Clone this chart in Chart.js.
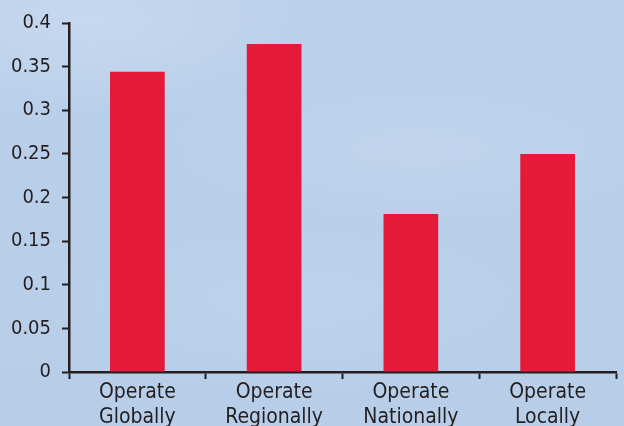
<!DOCTYPE html>
<html>
<head>
<meta charset="utf-8">
<script src="https://cdn.jsdelivr.net/npm/chart.js@4.4.1/dist/chart.umd.min.js"></script>
<style>
  html, body { margin: 0; padding: 0; }
  body {
    width: 624px; height: 426px; overflow: hidden;
    background:
      radial-gradient(ellipse 220px 90px at 90px 20px, rgba(206,222,242,0.6), rgba(206,222,242,0)),
      radial-gradient(ellipse 260px 80px at 420px 150px, rgba(198,217,239,0.5), rgba(198,217,239,0)),
      radial-gradient(ellipse 300px 90px at 300px 300px, rgba(195,214,237,0.45), rgba(195,214,237,0)),
      linear-gradient(180deg, #bbd0ea 0%, #b9cfe9 50%, #b8cee8 100%);
  }
  #wrap { position: absolute; left: 0; top: 0; width: 624px; height: 426px; }
</style>
</head>
<body>
<div id="wrap"><canvas id="c" width="624" height="426"></canvas></div>
<script>
  // data
  var categories = [["Operate", "Globally"], ["Operate", "Regionally"], ["Operate", "Nationally"], ["Operate", "Locally"]];
  var shares = [0.344, 0.376, 0.181, 0.25];
  var yTicks = [0, 0.05, 0.1, 0.15, 0.2, 0.25, 0.3, 0.35, 0.4];

  var ink = "#231f20";
  var family = "'Liberation Sans Narrow', 'DejaVu Sans Condensed', sans-serif";

  var ctx = document.getElementById("c").getContext("2d");
  new Chart(ctx, {
    type: "bar",
    data: {
      labels: categories,
      datasets: [{
        data: shares,
        backgroundColor: "#e5193a",
        borderWidth: 0,
        categoryPercentage: 0.8,
        barPercentage: 0.5
      }]
    },
    options: {
      responsive: false,
      animation: false,
      layout: { padding: { top: 19, right: 8, left: 0, bottom: 0 } },
      plugins: { legend: { display: false }, tooltip: { enabled: false } },
      scales: {
        x: {
          afterFit: function (s) { s.height = 54; },
          grid: {
            offset: true,
            drawOnChartArea: false,
            drawTicks: true,
            tickLength: 7,
            tickWidth: 2,
            tickColor: ink
          },
          border: { color: ink, width: 2.5 },
          ticks: {
            color: ink,
            font: { family: family, size: 21, lineHeight: 1.2 },
            padding: 1,
            maxRotation: 0,
            autoSkip: false
          }
        },
        y: {
          min: 0,
          max: 0.4,
          afterFit: function (s) { s.width = 69; },
          afterBuildTicks: function (s) {
            s.ticks = yTicks.map(function (v) { return { value: v }; });
          },
          grid: {
            drawOnChartArea: false,
            drawTicks: true,
            tickLength: 7,
            tickWidth: 2,
            tickColor: ink
          },
          border: { color: ink, width: 2.5 },
          ticks: {
            color: ink,
            font: { family: family, size: 20 },
            padding: 11,
            callback: function (v) { return String(v); }
          }
        }
      }
    }
  });
</script>
</body>
</html>
